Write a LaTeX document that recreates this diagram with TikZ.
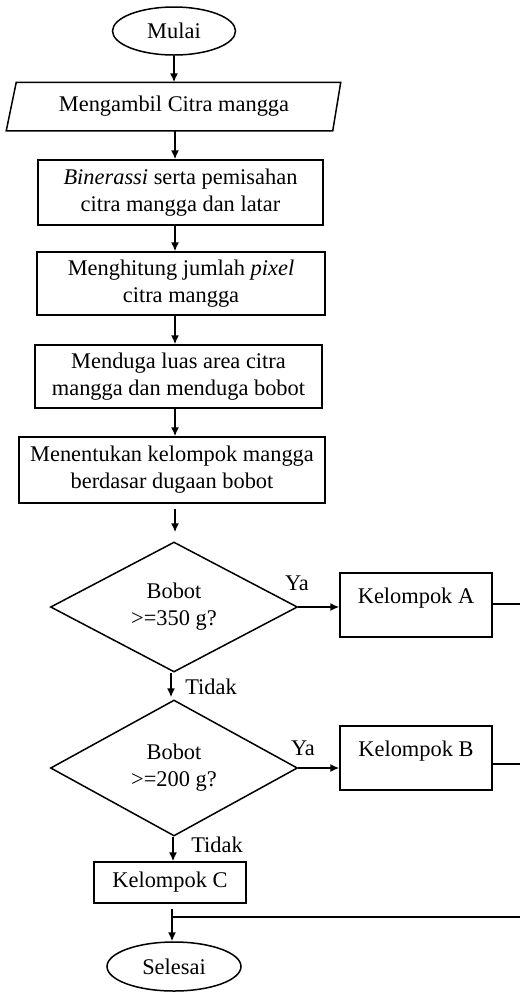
\documentclass[tikz,border=0pt]{standalone}
\usepackage{fontspec}
\setmainfont{Liberation Serif}
\usetikzlibrary{shapes.geometric,arrows.meta}
\tikzset{
  base/.style={font=\fontsize{11.2}{13.5}\selectfont, align=center, inner sep=0pt, line width=0.75pt},
  procbox/.style={base, draw, rectangle},
  termbox/.style={base, draw, ellipse},
  decbox/.style={base, draw, diamond, shape aspect=1.9},
  lbl/.style={font=\fontsize{11.2}{13.5}\selectfont, inner sep=0pt},
  arr/.style={line width=0.75pt, -{Latex[length=4.5pt,width=4pt]}},
  ln/.style={line width=0.75pt}
}
\begin{document}
\begin{tikzpicture}[x=0.5pt,y=-0.5pt]
\useasboundingbox (0,0) rectangle (520,992);
% nodes
\node[termbox, minimum width=61.5pt, minimum height=24pt] (start) at (174,31) {Mulai};
\node[base, minimum width=162pt, minimum height=23.5pt] (input) at (174,106.5) {Mengambil Citra mangga};
\draw[ln] ([xshift=-2.5pt]input.south west) -- ([xshift=2.5pt]input.north west)
  -- ([xshift=2pt]input.north east) -- ([xshift=-2pt]input.south east) -- cycle;
\node[procbox, minimum width=142.5pt, minimum height=32.5pt] (bin) at (180.5,192.5) {\textit{Binerassi} serta pemisahan\\citra mangga dan latar};
\node[procbox, minimum width=144pt, minimum height=31.5pt] (hit) at (181,283.5) {Menghitung jumlah \textit{pixel}\\citra mangga};
\node[procbox, minimum width=143.5pt, minimum height=31.5pt] (dug) at (178.5,376.5) {Menduga luas area citra\\mangga dan menduga bobot};
\node[procbox, minimum width=153pt, minimum height=33pt] (ten) at (172,470) {Menentukan kelompok mangga\\berdasar dugaan bobot};
\node[decbox, minimum width=123.5pt, minimum height=65pt] (d1) at (174,607) {Bobot\\>=350 g?};
\node[decbox, minimum width=123.5pt, minimum height=68pt] (d2) at (174,768) {Bobot\\>=200 g?};
\node[procbox, minimum width=76pt, minimum height=32pt, text height=8pt, text depth=10pt] (ka) at (416,605) {Kelompok A};
\node[procbox, minimum width=76pt, minimum height=32pt, text height=8pt, text depth=10pt] (kb) at (416,758) {Kelompok B};
\node[procbox, minimum width=76pt, minimum height=20.5pt] (kc) at (170,882.5) {Kelompok C};
\node[termbox, minimum width=67pt, minimum height=24.5pt] (end) at (174,966.5) {Selesai};
% column coordinates
\coordinate (c1) at (175,0);
\coordinate (c2) at (171,0);
\coordinate (c3) at (173,0);
\coordinate (c4) at (172,0);
\coordinate (ea) at (520,604);
\coordinate (eb) at (520,764);
\coordinate (ec) at (520,917);
\coordinate (jn) at (172,917);
% connectors
\draw[arr] (start.south) -- (start.south |- input.north);
\draw[arr] (input.south -| c1) -- (bin.north -| c1);
\draw[arr] (bin.south -| c1) -- (hit.north -| c1);
\draw[arr] (hit.south -| c1) -- (dug.north -| c1);
\draw[arr] (dug.south -| c1) -- (ten.north -| c1);
\draw[arr, shorten <=2.5pt, shorten >=4.5pt] (ten.south -| c1) -- (d1.north -| c1);
\draw[arr, shorten >=1pt] (d1.south -| c2) -- (d2.north -| c2);
\draw[arr] (d2.south -| c3) -- (kc.north -| c3);
\draw[arr] (d1.east) -- (d1.east -| ka.west);
\draw[arr] (d2.east) -- (d2.east -| kb.west);
\draw[ln] (ka.east |- ea) -- (ea);
\draw[ln] (kb.east |- eb) -- (eb);
\draw[ln] (ec) -- (jn);
\draw[arr, shorten <=2.5pt] (kc.south -| c4) -- (end.north -| c4);
% labels
\node[lbl] (ya1) at (297,583) {Ya};
\node[lbl] (ya2) at (303,748) {Ya};
\node[lbl] (td1) at (211,687) {Tidak};
\node[lbl] (td2) at (217,845) {Tidak};
\end{tikzpicture}
\end{document}
